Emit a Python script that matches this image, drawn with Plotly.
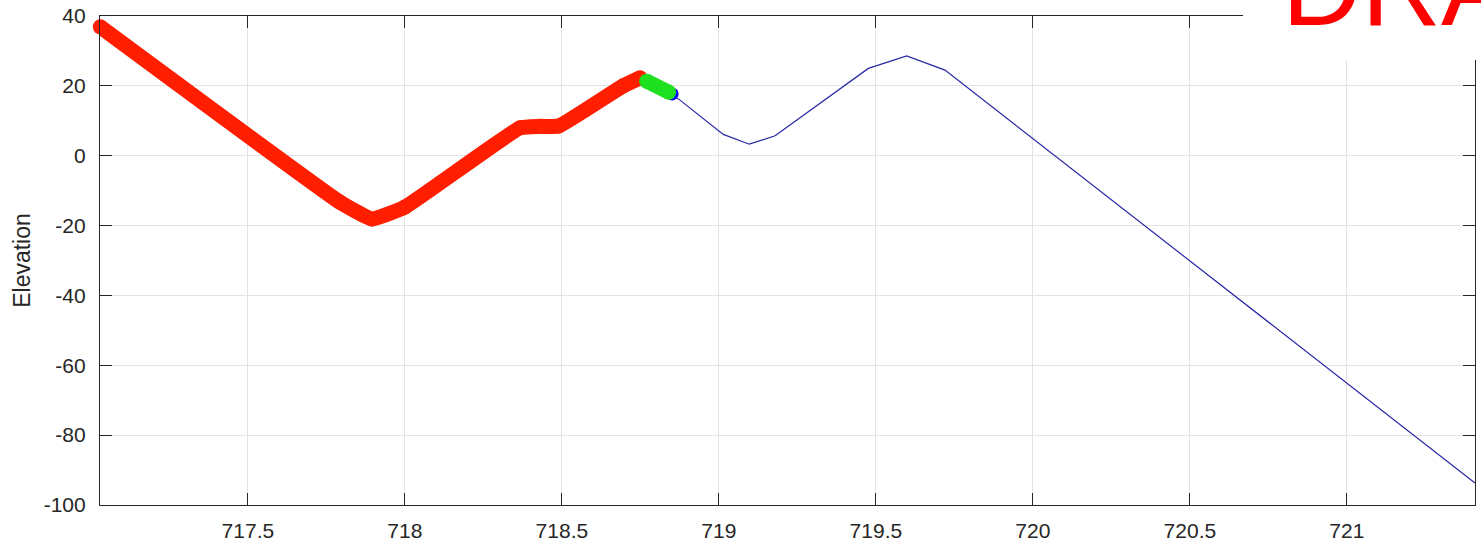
import plotly.graph_objects as go

# Elevation profile along the route (distance, elevation)
dist = [717.03, 717.793, 717.895, 718.0, 718.367, 718.43, 718.49, 718.695, 718.749,
        718.851, 719.014, 719.097, 719.179, 719.476, 719.598, 719.72, 721.408]
elev = [36.9, -13.3, -18.1, -14.7, 8.0, 8.4, 8.5, 20.0, 22.3,
        17.7, 6.1, 3.3, 5.7, 25.0, 28.6, 24.5, -93.7]

# Part of the route already travelled
done_dist = dist[:9]
done_elev = elev[:9]

# Current segment and current position
seg_dist = [718.77, 718.84]
seg_elev = [21.35, 18.2]
pos_dist = [718.851]
pos_elev = [17.7]

x_ticks = [717.5, 718, 718.5, 719, 719.5, 720, 720.5, 721]
x_labels = ["717.5", "718", "718.5", "719", "719.5", "720", "720.5", "721"]
y_ticks = [-100, -80, -60, -40, -20, 0, 20, 40]
y_labels = ["-100", "-80", "-60", "-40", "-20", "0", "20", "40"]

RED = "#ff1e00"
GREEN = "#1ee01e"
BLUE = "#0a0aff"
AX = "#262626"
GRID = "#e3e3e3"
FONT = "Liberation Sans, Arial, sans-serif"

fig = go.Figure()

# full profile
fig.add_trace(go.Scatter(x=dist, y=elev, mode="lines",
                         line=dict(color="#2626a6", width=1.2),
                         hoverinfo="skip", showlegend=False))
# travelled part, thick with round joins
fig.add_trace(go.Scatter(x=done_dist, y=done_elev, mode="lines+markers",
                         line=dict(color=RED, width=15, shape="spline", smoothing=0.35),
                         marker=dict(color=RED, size=15, line=dict(width=0)),
                         cliponaxis=False, showlegend=False))
# current position
fig.add_trace(go.Scatter(x=pos_dist, y=pos_elev, mode="markers",
                         marker=dict(color=BLUE, size=13, line=dict(width=0)),
                         showlegend=False))
# current segment
fig.add_trace(go.Scatter(x=seg_dist, y=seg_elev, mode="lines+markers",
                         line=dict(color=GREEN, width=15),
                         marker=dict(color=GREEN, size=15, line=dict(width=0)),
                         showlegend=False))

axis_common = dict(
    showline=True, linecolor=AX, linewidth=1.2, mirror="ticks",
    ticks="inside", ticklen=12, tickwidth=1.2, tickcolor=AX,
    showgrid=True, gridcolor=GRID, gridwidth=1, zeroline=False,
    tickfont=dict(family=FONT, size=21, color=AX),
    tickmode="array", automargin=False,
)

fig.update_xaxes(range=[717.029, 721.408], tickvals=x_ticks, ticktext=x_labels,
                 ticklabelstandoff=7, **axis_common)
fig.update_yaxes(range=[-100, 40], tickvals=y_ticks, ticktext=y_labels,
                 ticklabelstandoff=9,
                 title=dict(text="Elevation", font=dict(family=FONT, size=23, color=AX),
                            standoff=6),
                 **axis_common)

# white label box in the top-right corner
fig.add_shape(type="rect", xref="paper", yref="paper",
              x0=0.8313, x1=1.01, y0=0.910, y1=1.04,
              fillcolor="white", line=dict(width=0), layer="above")
fig.add_annotation(text="DRA", xref="paper", yref="paper", x=0.858, y=0.93,
                   xanchor="left", yanchor="bottom", showarrow=False,
                   font=dict(family=FONT, size=110, color="#ff0000"))

fig.update_layout(
    width=1481, height=543,
    margin=dict(l=100, r=6, t=16, b=38, autoexpand=False),
    paper_bgcolor="white", plot_bgcolor="white",
)

fig.write_html("out.html")
